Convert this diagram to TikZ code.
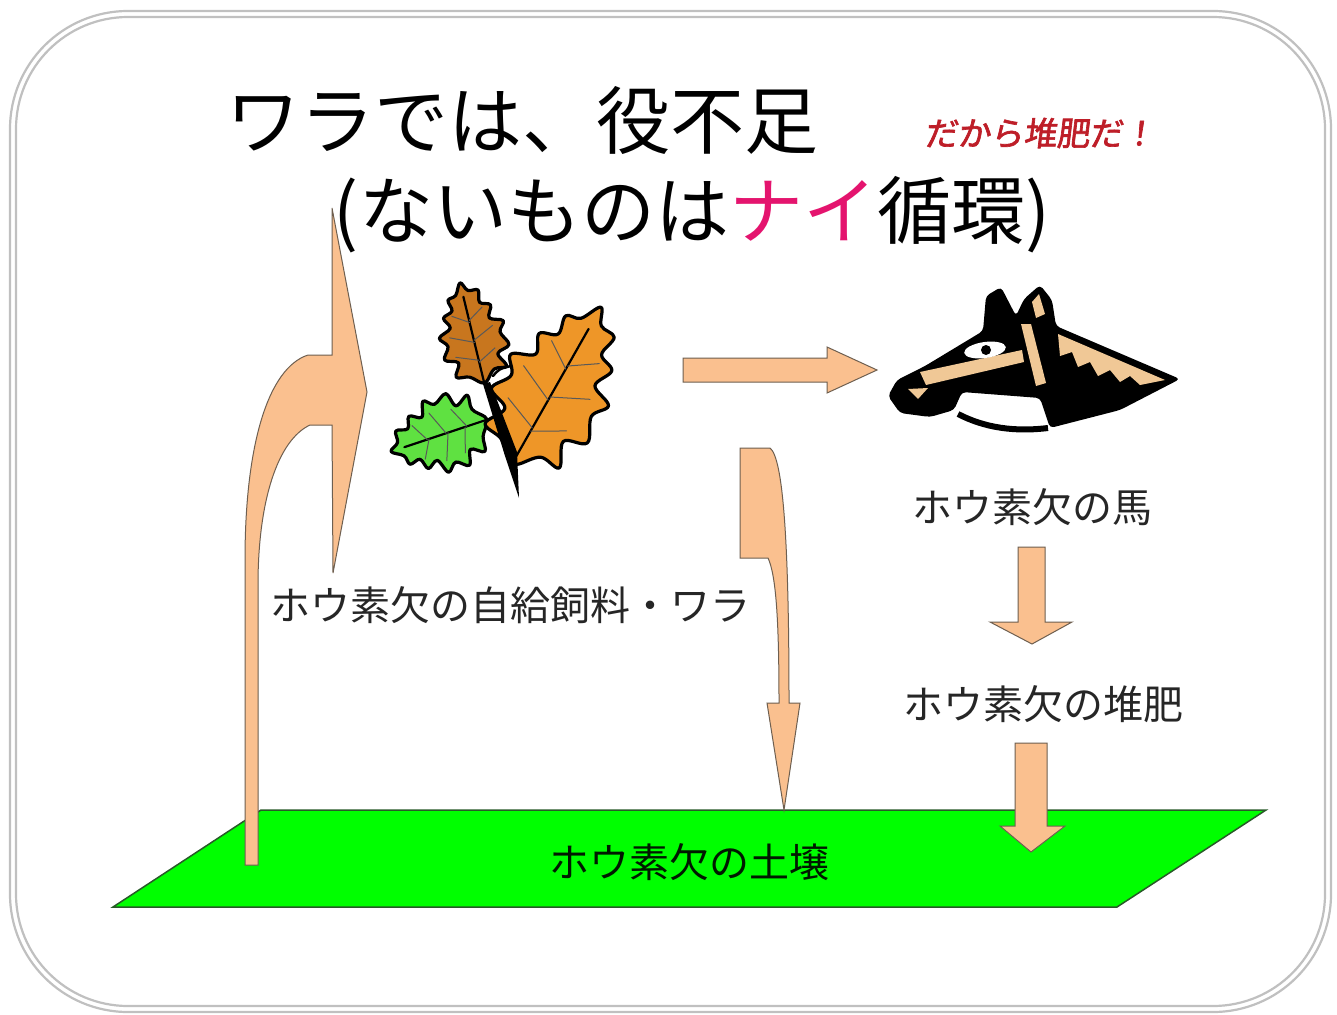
\documentclass[tikz,border=0pt]{standalone}
\usepackage{fontspec}
\newfontfamily\jp{Noto Sans CJK JP}
\newfontfamily\jpred[FakeSlant=0.12,FakeBold=2]{Noto Sans CJK JP}
\definecolor{arrowfill}{RGB}{250,192,143}
\definecolor{arrowline}{RGB}{110,95,80}
\definecolor{soil}{RGB}{0,255,0}
\definecolor{soilline}{RGB}{40,90,40}
\definecolor{tpink}{RGB}{228,20,110}
\definecolor{tred}{RGB}{190,30,40}
\definecolor{framegray}{RGB}{192,192,192}
\definecolor{leafdark}{RGB}{200,118,30}
\definecolor{leaflight}{RGB}{238,150,40}
\definecolor{leafgreen}{RGB}{95,225,65}
\definecolor{horsetan}{RGB}{240,200,150}
\tikzset{
  flow/.style={fill=arrowfill, draw=arrowline, line width=1pt, line join=miter},
  caption/.style={font=\jp\fontsize{40}{44}\selectfont, text=black!85, inner sep=0pt},
  titletext/.style={font=\jp\fontsize{74}{80}\selectfont, text=black, inner sep=0pt},
  oak/.pic={
    \path[pic actions, draw=black, line width=3.2pt, line join=round]
      plot[smooth cycle, tension=0.6] coordinates {
        (4,0) (18,-10) (36,-10) (28,-24) (46,-30) (38,-44) (46,-54) (28,-60)
        (34,-72) (20,-77) (22,-89) (8,-91) (0,-100)
        (-10,-89) (-22,-86) (-20,-75) (-34,-70) (-28,-59) (-46,-52) (-37,-42)
        (-46,-30) (-28,-24) (-36,-11) (-18,-8) (-4,0)};
    \draw[black, line width=2.2pt, line cap=round] (0,0) -- (0,-86);
    \draw[black!65, line width=1pt, line cap=round]
      (0,-20) -- (26,-30) (0,-42) -- (30,-52) (0,-62) -- (22,-72)
      (0,-22) -- (-30,-30) (0,-40) -- (-32,-50) (0,-60) -- (-22,-70);
  }
}
\begin{document}
\begin{tikzpicture}[x=1pt,y=-1pt]
\useasboundingbox (0,0) rectangle (1337,1014);
\fill[white] (0,0) rectangle (1337,1014);

% double rounded frame
\draw[framegray, line width=2.2pt, rounded corners=118pt] (10,11) rectangle (1331,1012);
\draw[framegray, line width=2.2pt, rounded corners=112pt] (16,17) rectangle (1325,1006);

% soil plane
\draw[fill=soil, draw=soilline, line width=1.5pt, line join=miter]
  (261,810) -- (1266,810) -- (1117,907) -- (113,907) -- cycle;

% curved arrow rising from the soil to the straw
\draw[flow] (245,865) -- (245,560)
  .. controls (245,445) and (268,368) .. (308,355)
  -- (332,355) -- (332,208) -- (367,392) -- (333,573) -- (332,425) -- (310,425)
  .. controls (278,440) and (258,500) .. (258,585)
  -- (258,865) -- cycle;

% straw back to the soil
\draw[flow] (740,448) -- (770,448)
  .. controls (783,458) and (789,540) .. (789,703)
  -- (800,703) -- (784,810) -- (767,703) -- (779,703)
  .. controls (779,620) and (776,575) .. (768,558)
  -- (740,558) -- cycle;

% straw to horse
\draw[flow] (683,358) -- (827,358) -- (827,347) -- (877,370) -- (827,393) -- (827,382) -- (683,382) -- cycle;

% horse to manure, manure to soil
\draw[flow] (1018,547) -- (1045,547) -- (1045,622) -- (1072,622) -- (1032,644) -- (990,622) -- (1018,622) -- cycle;
\draw[flow] (1015,743) -- (1047,743) -- (1047,826) -- (1065,826) -- (1031,852) -- (1000,826) -- (1015,826) -- cycle;

% oak sprig
\pic[fill=leafgreen, rotate=108.4, xscale=0.82, yscale=1.0] at (486,420) {oak};
\pic[fill=leafdark, rotate=13.6, xscale=0.72, yscale=1.02] at (484,382) {oak};
\pic[fill=leaflight, rotate=-29.6, xscale=1.2, yscale=1.78] at (513,462) {oak};
\fill[black] (483,384) -- (490,382) -- (517,452) -- (519,498) -- (505,456) -- cycle;
\draw[black, line width=2.5pt, line cap=round] (493,376) .. controls (499,369) .. (511,366);

% horse head
\fill[black, rounded corners=4pt] (888,396) -- (897,380) -- (925,366) -- (983,331)
  -- (986,296) -- (1001,287) -- (1016,316) -- (1024,299) -- (1040,285) -- (1052,300)
  -- (1056,326) -- (1180,379) -- (1120,410) -- (1050,428) -- (1040,398) -- (962,392)
  -- (954,410) -- (930,417) -- (900,413) -- cycle;
\draw[black, line width=6pt] (958,414) .. controls (985,428) and (1015,432) .. (1048,428);
\fill[horsetan] (920,372) -- (1022,350) -- (1024,362) -- (926,385) -- cycle;
\fill[horsetan] (1021,324) -- (1031,324) -- (1046,383) -- (1036,386) -- cycle;
\fill[horsetan] (1032,302) -- (1039,294) -- (1045,314) -- (1036,318) -- cycle;
\fill[horsetan] (908,389) -- (928,388) -- (918,399) -- cycle;
\fill[horsetan] (1058,334) -- (1165,380) -- (1140,385) -- (1130,376) -- (1120,382)
  -- (1110,370) -- (1098,376) -- (1090,362) -- (1078,367) -- (1072,352) -- (1060,356) -- cycle;
\fill[white, rotate around={8:(985,350)}] (985,350) ellipse (21 and 8);
\fill[black] (986,350) circle (5);

% texts
\node[titletext] (title1) at (522,120) {ワラでは、役不足};
\node[titletext] (title2) at (692,215) {(ないものは\textcolor{tpink}{ナイ}循環)};
\node[font=\jpred\fontsize{33}{36}\selectfont, text=tred, inner sep=0pt] (slogan) at (1040,133) {だから堆肥だ！};
\node[caption] (fodder) at (510,605) {ホウ素欠の自給飼料・ワラ};
\node[caption] (horse) at (1032,507) {ホウ素欠の馬};
\node[caption] (compost) at (1043,704) {ホウ素欠の堆肥};
\node[caption, text=black!90!green] (soiltext) at (689,862) {ホウ素欠の土壌};
\end{tikzpicture}
\end{document}
